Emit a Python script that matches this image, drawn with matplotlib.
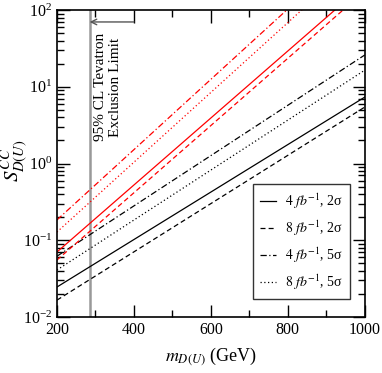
import numpy as np
import matplotlib
matplotlib.use("Agg")
import matplotlib.pyplot as plt
from matplotlib.ticker import MultipleLocator, LogLocator, NullFormatter

plt.rcParams['font.family'] = ['Liberation Serif', 'DejaVu Serif']
plt.rcParams['mathtext.fontset'] = 'stix'

# Data: S values at m = 200 and 1000 GeV (log-linear lines)
m_pts = [200, 1000]
black_4fb_2s = [0.0246, 7.35]
black_8fb_2s = [0.0166, 5.45]
black_4fb_5s = [0.062, 26.0]
black_8fb_5s = [0.041, 16.5]
red_4fb_2s = [0.0703, 219.0]
red_8fb_2s = [0.0553, 177.0]
red_4fb_5s = [0.184, 851.0]
red_8fb_5s = [0.128, 558.0]
tevatron_limit = 285
legend_labels = [r'$\mathit{4\ fb}^{-1}$, 2σ', r'$\mathit{8\ fb}^{-1}$, 2σ',
                 r'$\mathit{4\ fb}^{-1}$, 5σ', r'$\mathit{8\ fb}^{-1}$, 5σ']

def line(vals):
    m = np.linspace(m_pts[0], m_pts[1], 200)
    lv = np.interp(m, m_pts, np.log10(vals))
    return m, 10 ** lv

fig = plt.figure(figsize=(3.82, 3.73), dpi=100)
ax = fig.add_axes([0.149, 0.150, 0.806, 0.823])

lw = 0.9
dash = (0, (4, 2.5))
dot = (0, (1, 2))
dashdot = (0, (5, 2, 1, 2))
styles = ['-', dash, dashdot, dot]
blacks = [black_4fb_2s, black_8fb_2s, black_4fb_5s, black_8fb_5s]
reds = [red_4fb_2s, red_8fb_2s, red_4fb_5s, red_8fb_5s]
handles = []
for vals, ls, lab in zip(blacks, styles, legend_labels):
    h, = ax.plot(*line(vals), color='black', lw=lw, linestyle=ls, label=lab)
    handles.append(h)
for vals, ls in zip(reds, styles):
    ax.plot(*line(vals), color='#ff0000', lw=lw, linestyle=ls)

ax.axvline(tevatron_limit, color='#999999', lw=1.8, zorder=1)
ax.annotate('', xy=(tevatron_limit, 70), xytext=(400, 70),
            arrowprops=dict(arrowstyle='->', color='#555555', lw=1.0,
                            shrinkA=0, shrinkB=0))
ax.text(332, 50, '95% CL Tevatron\nExclusion Limit', rotation=90,
        ha='center', va='top', multialignment='center', fontsize=11)

ax.set_yscale('log')
ax.set_xlim(200, 1000)
ax.set_ylim(1e-2, 1e2)
ax.xaxis.set_major_locator(MultipleLocator(200))
ax.xaxis.set_minor_locator(MultipleLocator(100))
ax.yaxis.set_major_locator(LogLocator(base=10, numticks=10))
ax.yaxis.set_minor_locator(LogLocator(base=10, subs=np.arange(2, 10), numticks=20))
ax.yaxis.set_minor_formatter(NullFormatter())
ax.tick_params(which='both', direction='in', top=True, right=True, labelsize=11.5)
ax.tick_params(which='major', length=9, width=1.0)
ax.tick_params(which='minor', length=5, width=1.0)
for s in ax.spines.values():
    s.set_linewidth(1.2)

ax.set_xlabel(r'$m_{D(U)}$ (GeV)', fontsize=13, labelpad=6)
ax.set_ylabel(r'$S^{CC}_{D(U)}$', fontsize=15)
ax.yaxis.set_label_coords(-0.088, 0.51)

leg = ax.legend(handles=handles, loc='lower right', bbox_to_anchor=(0.951, 0.059),
                borderaxespad=0, fontsize=10, frameon=True, fancybox=False,
                edgecolor='black', handlelength=1.2, handletextpad=0.6,
                labelspacing=0.55, borderpad=0.5)
leg.get_frame().set_linewidth(1.0)

fig.savefig('out.png', dpi=100)
